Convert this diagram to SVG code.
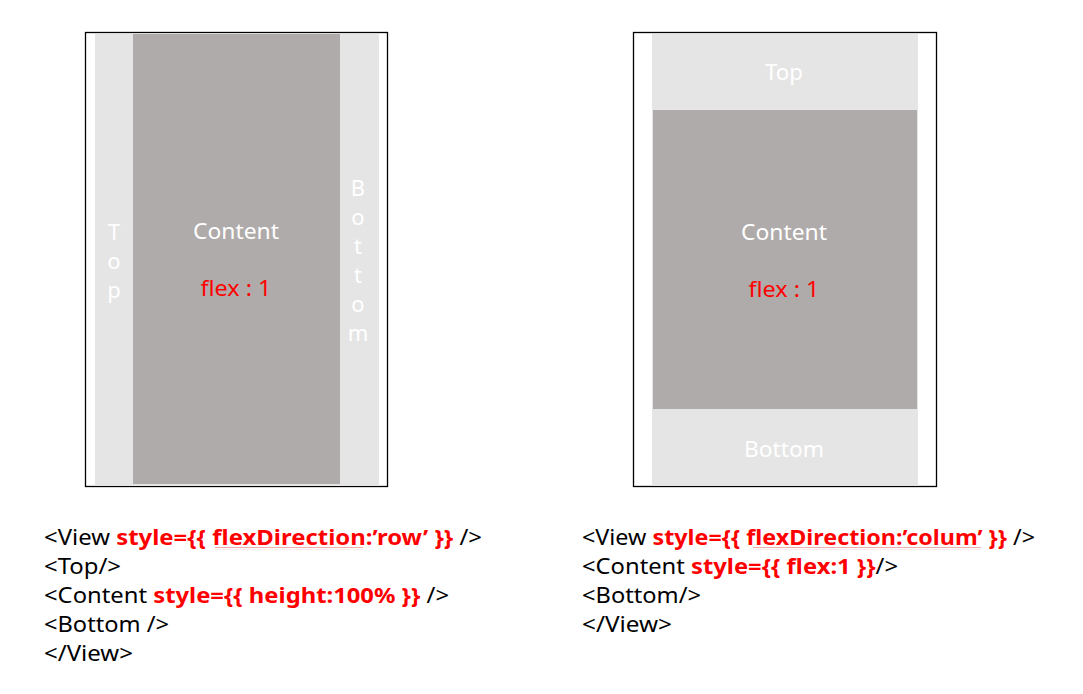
<svg xmlns="http://www.w3.org/2000/svg" width="1083" height="694" viewBox="0 0 1083 694">
<style>
.frame{fill:#fff;stroke:#000;stroke-width:1.3}
.light{fill:#e5e5e5}
.dark{fill:#afabaa}
.w{fill:#fff;font-family:"Noto Sans","Noto Sans CJK KR",sans-serif;font-size:22px;text-anchor:middle}
.r{fill:#ff0000;font-family:"Noto Sans","Noto Sans CJK KR",sans-serif;font-size:22px;text-anchor:middle}
.code{fill:#000;font-family:"Noto Sans","Noto Sans CJK KR",sans-serif;font-size:22px}
.b{fill:#ff0000;font-weight:bold}
.sq{fill:none;stroke:#e88080;stroke-width:0.8}
</style>
<defs>
<pattern id="wave" x="0" y="0" width="4" height="3" patternUnits="userSpaceOnUse">
<path d="M0,2 L1,0.8 L2,2 L3,0.8 L4,2" fill="none" stroke="#e88080" stroke-width="0.7"/>
</pattern>
</defs>
<g id="row-layout">
<rect class="frame" x="85.5" y="32.5" width="302" height="454"/>
<rect class="light" x="95" y="34" width="284" height="452"/>
<rect class="dark" x="133" y="34" width="207" height="450"/>
<g id="row-top">
<text class="w" x="114" y="240">T</text>
<text class="w" x="114" y="269">o</text>
<text class="w" x="114" y="298">p</text>
</g>
<g id="row-content">
<text class="w" x="236" y="239" textLength="86" lengthAdjust="spacingAndGlyphs">Content</text>
<text class="r" x="236" y="296" textLength="71" lengthAdjust="spacingAndGlyphs">flex : 1</text>
</g>
<g id="row-bottom">
<text class="w" x="358" y="196">B</text>
<text class="w" x="358" y="225">o</text>
<text class="w" x="358" y="254">t</text>
<text class="w" x="358" y="283">t</text>
<text class="w" x="358" y="312">o</text>
<text class="w" x="358" y="341">m</text>
</g>
</g>
<g id="column-layout">
<rect class="frame" x="633.5" y="32.5" width="303" height="454"/>
<rect class="light" x="652" y="34" width="266" height="452"/>
<rect class="dark" x="653" y="110" width="264" height="299"/>
<g id="col-top"><text class="w" x="784" y="80" textLength="38" lengthAdjust="spacingAndGlyphs">Top</text></g>
<g id="col-content">
<text class="w" x="784" y="240" textLength="86" lengthAdjust="spacingAndGlyphs">Content</text>
<text class="r" x="784" y="297" textLength="71" lengthAdjust="spacingAndGlyphs">flex : 1</text>
</g>
<g id="col-bottom"><text class="w" x="784" y="457" textLength="80" lengthAdjust="spacingAndGlyphs">Bottom</text></g>
</g>
<g id="code-left" class="code">
<rect x="215" y="547" width="148" height="3" fill="url(#wave)"/>
<text x="44" y="545" textLength="438" lengthAdjust="spacingAndGlyphs">&lt;View <tspan class="b">style={{ flexDirection:’row’ }}</tspan> /&gt;</text>
<text x="44" y="574" textLength="77" lengthAdjust="spacingAndGlyphs">&lt;Top/&gt;</text>
<text x="44" y="603" textLength="405" lengthAdjust="spacingAndGlyphs">&lt;Content <tspan class="b">style={{ height:100% }}</tspan> /&gt;</text>
<text x="44" y="632" textLength="125" lengthAdjust="spacingAndGlyphs">&lt;Bottom /&gt;</text>
<text x="44" y="661" textLength="89" lengthAdjust="spacingAndGlyphs">&lt;/View&gt;</text>
</g>
<g id="code-right" class="code">
<rect x="753" y="547" width="228" height="3" fill="url(#wave)"/>
<text x="582" y="545" textLength="453" lengthAdjust="spacingAndGlyphs">&lt;View <tspan class="b">style={{ flexDirection:’colum’ }}</tspan> /&gt;</text>
<text x="582" y="574" textLength="316" lengthAdjust="spacingAndGlyphs">&lt;Content <tspan class="b">style={{ flex:1 }}</tspan>/&gt;</text>
<text x="582" y="603" textLength="119" lengthAdjust="spacingAndGlyphs">&lt;Bottom/&gt;</text>
<text x="582" y="632" textLength="90" lengthAdjust="spacingAndGlyphs">&lt;/View&gt;</text>
</g>
<g id="connectors"/>
</svg>
